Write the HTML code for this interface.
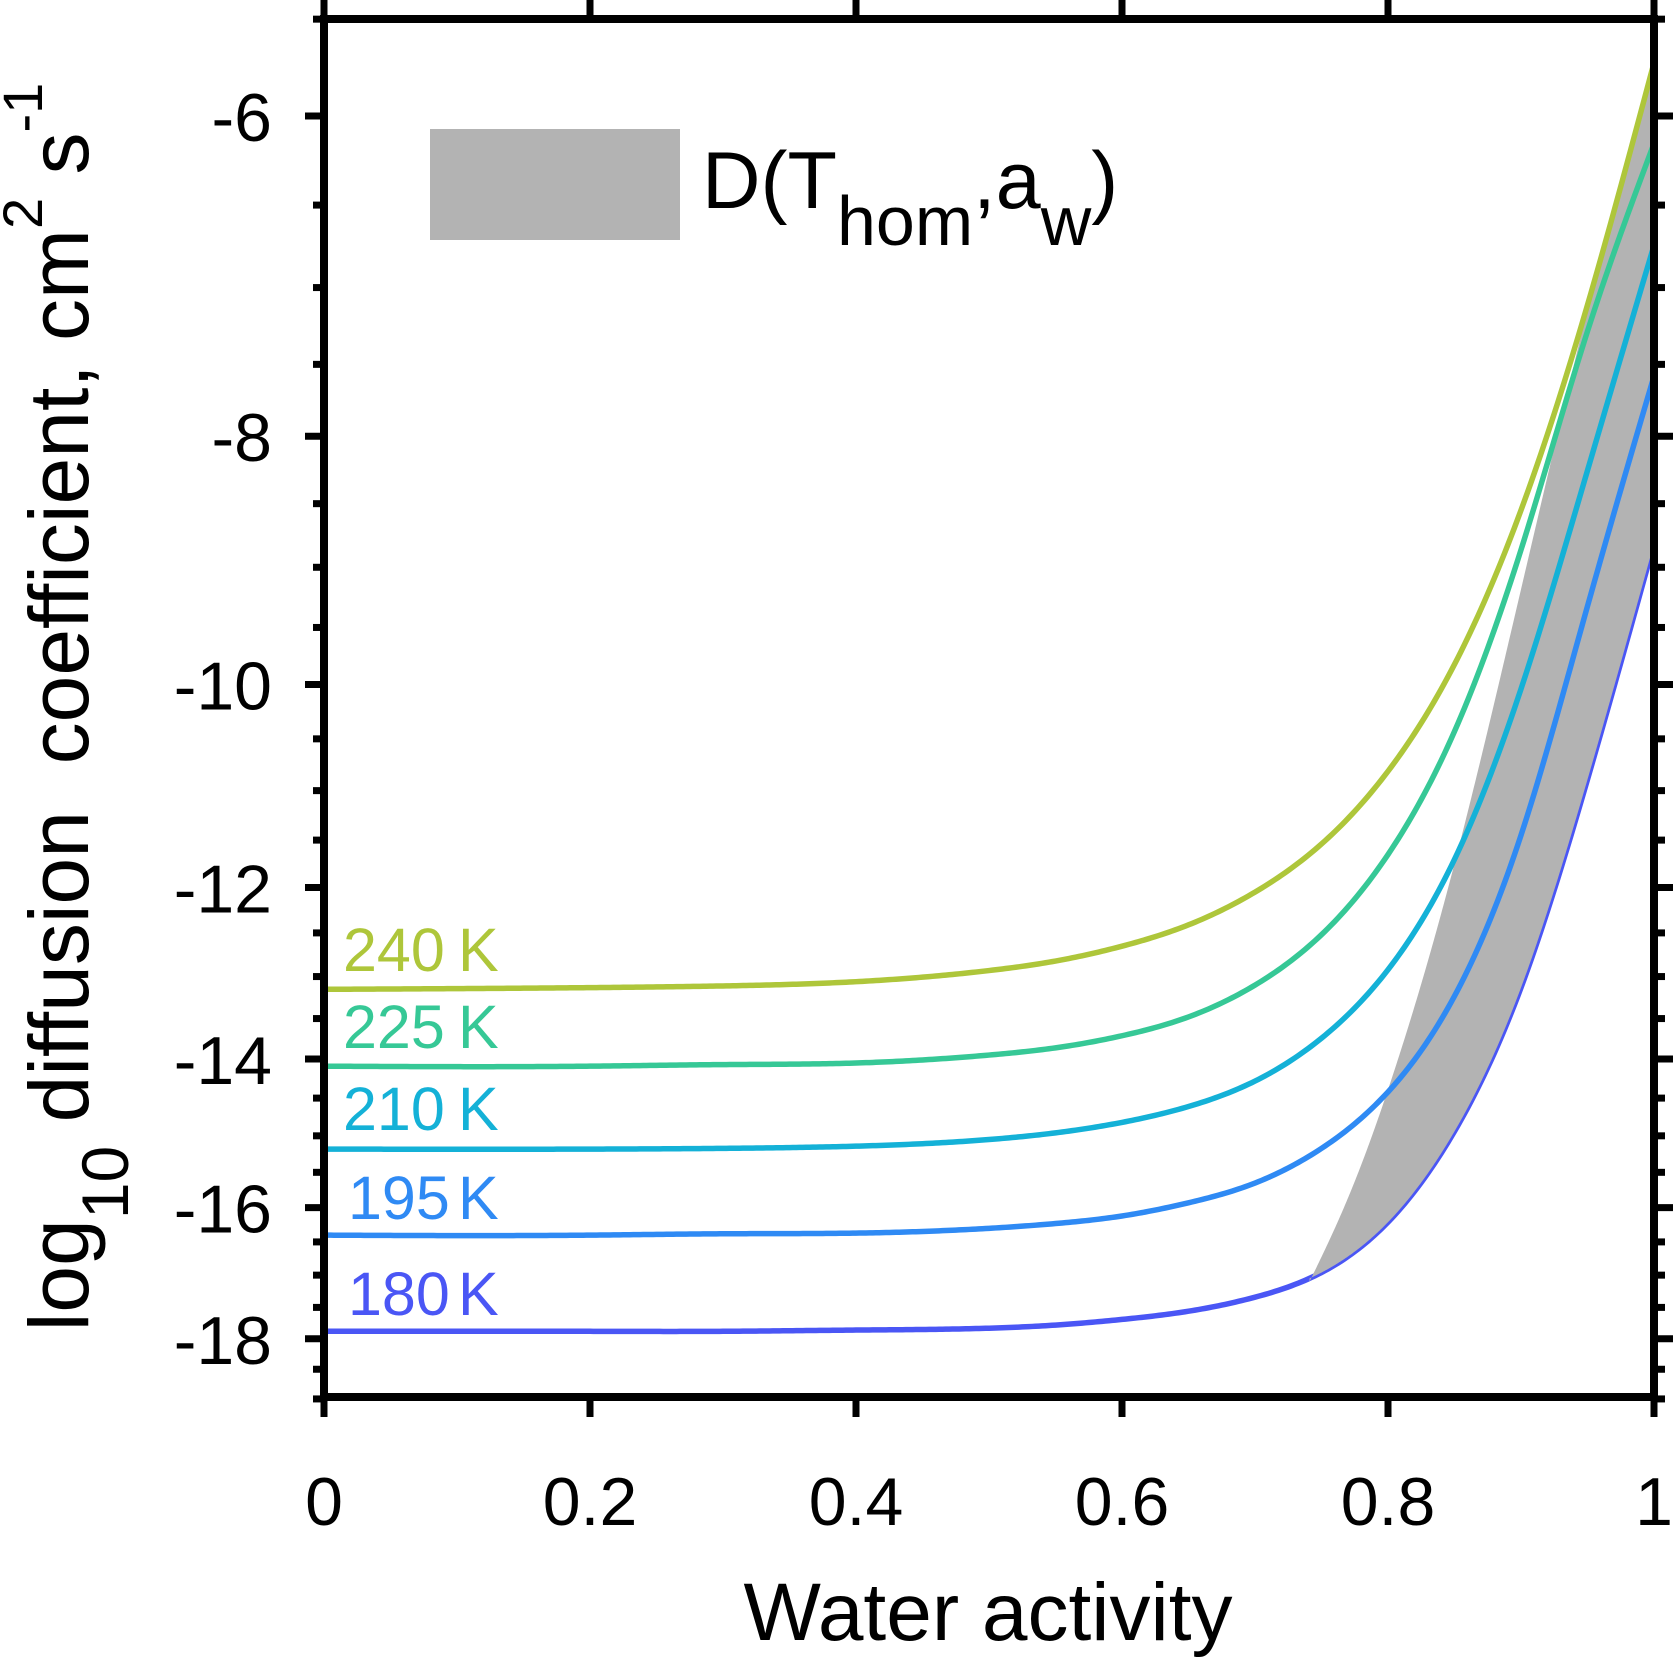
<!DOCTYPE html>
<html><head><meta charset="utf-8"><title>Diffusion coefficient vs water activity</title>
<style>html,body{margin:0;padding:0;background:#fff}svg{display:block;font-family:"Liberation Sans",Arial,sans-serif}</style>
</head><body>
<svg id="chart" width="1675" height="1659" viewBox="0 0 1675 1659" xmlns="http://www.w3.org/2000/svg">
<rect width="1675" height="1659" fill="#fff"/>
<g id="plot"></g>
<rect x="430" y="129" width="250" height="111" fill="#b3b3b3"/>
<text x="702" y="208" font-size="81" fill="#000">D(T<tspan font-size="70" dy="37">hom</tspan><tspan dy="-37">,a</tspan><tspan font-size="70" dy="37">w</tspan><tspan dy="-37">)</tspan></text>
<text x="988" y="1640" font-size="82" text-anchor="middle" fill="#000">Water activity</text>
<text transform="translate(88,707) rotate(-90)" font-size="84" text-anchor="middle" fill="#000" xml:space="preserve">log<tspan font-size="66" dy="40">10</tspan><tspan dy="-40"> diffusion  coefficient, cm</tspan><tspan font-size="56" dy="-46">2</tspan><tspan dy="46"> s</tspan><tspan font-size="56" dy="-46">-1</tspan></text>
</svg>
<script>
const xs = [0, 0.2, 0.3, 0.4, 0.5, 0.55, 0.6, 0.65, 0.7, 0.75, 0.8, 0.85, 0.9, 0.95, 1.0];
const temps = ["240", "225", "210", "195", "180"];
const d240 = [-13.15, -13.13, -13.11, -13.06, -12.93, -12.82, -12.65, -12.41, -12.05, -11.54, -10.81, -9.82, -8.55, -7.11, -5.72];
const d225 = [-14.09, -14.09, -14.07, -14.05, -13.95, -13.86, -13.71, -13.48, -13.10, -12.52, -11.65, -10.43, -8.86, -7.28, -6.15];
const d210 = [-15.18, -15.18, -15.17, -15.14, -15.05, -14.96, -14.82, -14.61, -14.28, -13.74, -12.92, -11.70, -10.04, -8.25, -6.74];
const d195 = [-16.40, -16.40, -16.38, -16.37, -16.30, -16.23, -16.12, -15.93, -15.65, -15.17, -14.42, -13.23, -11.45, -9.32, -7.58];
const d180 = [-17.88, -17.88, -17.88, -17.86, -17.83, -17.78, -17.69, -17.56, -17.34, -16.96, -16.21, -14.94, -13.13, -10.89, -8.81];
const bandX = [0.741, 0.76, 0.78, 0.80, 0.83, 0.86, 0.89, 0.92, 0.95, 0.98, 1.0];
const bandUpper = [-17.10, -16.30, -15.39, -14.39, -12.82, -11.21, -9.66, -8.29, -7.14, -6.24, -5.75];
const xTicks = [0, 0.2, 0.4, 0.6, 0.8, 1];
const xTickLabels = ["0", "0.2", "0.4", "0.6", "0.8", "1"];
const yTicks = [-6, -8, -10, -12, -14, -16, -18];
const yTickLabels = ["-6", "-8", "-10", "-12", "-14", "-16", "-18"];

const NS = "http://www.w3.org/2000/svg";
const plot = document.getElementById("plot");
const L = 324, R = 1654, T = 19, B = 1397;
function X(v) { return L + (R - L) * v; }
function Y(v) { return 116 + 1113 * Math.log(-v / 6); }
function el(tag, attrs, parent) {
  const e = document.createElementNS(NS, tag);
  for (const k in attrs) e.setAttribute(k, attrs[k]);
  (parent || plot).appendChild(e);
  return e;
}
function spline(x, vals, lo, hi) {
  const y = vals.map(Y);
  const n = x.length, h = [], al = [], l = [1], mu = [0], z = [0], c = new Array(n).fill(0), b = [], d = [];
  for (let i = 0; i < n - 1; i++) h.push(x[i + 1] - x[i]);
  for (let i = 1; i < n - 1; i++) al[i] = 3 / h[i] * (y[i + 1] - y[i]) - 3 / h[i - 1] * (y[i] - y[i - 1]);
  for (let i = 1; i < n - 1; i++) {
    l[i] = 2 * (x[i + 1] - x[i - 1]) - h[i - 1] * mu[i - 1];
    mu[i] = h[i] / l[i];
    z[i] = (al[i] - h[i - 1] * z[i - 1]) / l[i];
  }
  for (let j = n - 2; j >= 0; j--) {
    c[j] = (j > 0 ? z[j] : 0) - mu[j] * c[j + 1];
    b[j] = (y[j + 1] - y[j]) / h[j] - h[j] * (c[j + 1] + 2 * c[j]) / 3;
    d[j] = (c[j + 1] - c[j]) / (3 * h[j]);
  }
  const out = [], N = 400;
  for (let k = 0; k <= N; k++) {
    const xv = lo + (hi - lo) * k / N;
    let i = 0; while (i < n - 2 && xv > x[i + 1]) i++;
    const t = xv - x[i];
    out.push([X(xv), y[i] + b[i] * t + c[i] * t * t + d[i] * t * t * t]);
  }
  return out;
}
function poly(pts, move) {
  return pts.map((p, i) => (i === 0 && move ? "M" : "L") + p[0].toFixed(2) + "," + p[1].toFixed(2)).join("");
}
const series = [d240, d225, d210, d195, d180];
const colors = ["#aec63a", "#36c896", "#14b1d7", "#2f8af4", "#4a56f5"];
const labelY = [971, 1048, 1130, 1219, 1315];

function drawLine(i) {
  const pts = spline(xs, series[i], 0, 1);
  const p = el("path", { d: poly(pts, true), fill: "none", stroke: colors[i], "stroke-width": 5.5, "stroke-linejoin": "round" });
  
  
}
drawLine(4);
const up = spline(bandX, bandUpper, bandX[0], 1);
const low = spline(xs, d180, bandX[0], 1).reverse();
const band = el("path", { d: poly(up, true) + poly(low, false) + "Z", fill: "#b3b3b3", stroke: "none" });


for (let i = 3; i >= 0; i--) drawLine(i);

for (let i = 0; i < temps.length; i++) {
  const t = el("text", { x: i >= 3 ? 348 : 343, y: labelY[i], "font-size": 61, fill: colors[i] });
  t.textContent = temps[i];
  
  
  const k = el("text", { x: 458, y: labelY[i], "font-size": 61, fill: colors[i] });
  k.textContent = "K";
  
  
}

const box = el("rect", { x: L, y: T, width: R - L, height: B - T, fill: "none", stroke: "#000", "stroke-width": 8 });



for (let v = -5.5; v >= -19.001; v -= 0.5) {
  const major = Math.abs(v) % 2 === 0;
  const len = major ? 19 : 11;
  const y = Y(v);
  const a = el("line", { x1: L - len, x2: L, y1: y, y2: y, stroke: "#000", "stroke-width": 7 });
  
  
  const b = el("line", { x1: R, x2: R + len, y1: y, y2: y, stroke: "#000", "stroke-width": 7 });
  
  
}
yTicks.forEach((v, i) => {
  const t = el("text", { x: 272, y: Y(v) + 25, "font-size": 68, "text-anchor": "end", fill: "#000" });
  t.textContent = yTickLabels[i];
  
  
});
xTicks.forEach((v, i) => {
  const x = X(v);
  const a = el("line", { x1: x, x2: x, y1: B, y2: B + 20, stroke: "#000", "stroke-width": 7 });
  
  
  const b = el("line", { x1: x, x2: x, y1: 0, y2: T, stroke: "#000", "stroke-width": 7 });
  
  
  const t = el("text", { x: x, y: 1525, "font-size": 68, "text-anchor": "middle", fill: "#000" });
  t.textContent = xTickLabels[i];
  
  
});
</script>
</body></html>
